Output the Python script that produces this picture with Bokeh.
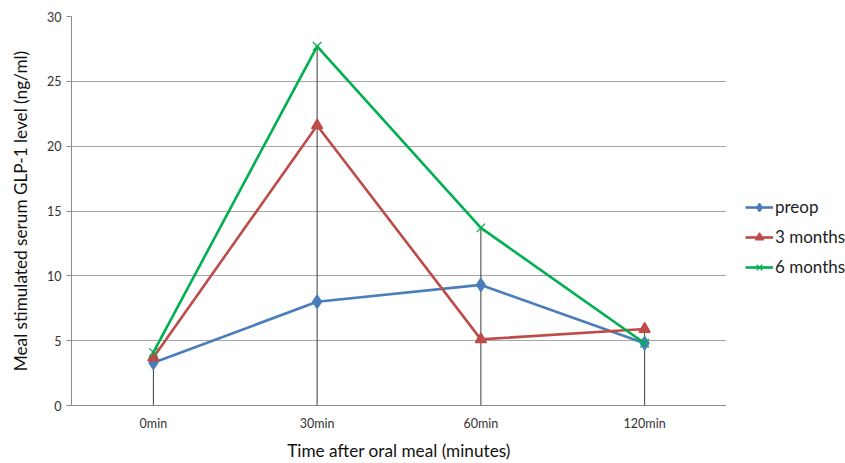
from bokeh.plotting import figure
from bokeh.layouts import row
from bokeh.models import FactorRange, Range1d, Legend, LegendItem, ColumnDataSource, FixedTicker
from bokeh.embed import file_html
from bokeh.resources import INLINE

times = ["0min", "30min", "60min", "120min"]
preop = [3.3, 8.0, 9.3, 4.8]
months3 = [3.7, 21.6, 5.1, 5.9]
months6 = [4.1, 27.7, 13.7, 4.8]
yticks = [0, 5, 10, 15, 20, 25, 30]

FONT = "Lato"

p = figure(x_range=FactorRange(*times), y_range=Range1d(0, 30),
           width=726, height=463, output_backend="svg", toolbar_location=None,
           min_border_left=71, min_border_right=0, min_border_top=16, min_border_bottom=58)
p.outline_line_color = None

# legend-only figure (its renderers sit outside its visible range)
pl = figure(x_range=FactorRange(*times), y_range=Range1d(1000, 1001),
            width=119, height=463, output_backend="svg", toolbar_location=None,
            min_border=0, outline_line_color=None)
pl.axis.visible = False
pl.grid.visible = False

# drop lines from max value to axis
maxv = [max(a, b, c) for a, b, c in zip(preop, months3, months6)]
p.segment(x0=times, y0=[0] * 4, x1=times, y1=maxv, line_color="#3a3a3a", line_width=1)

series = [
    ("preop", preop, "#4A7EBB", "diamond", 13, 1.5),
    ("3 months", months3, "#BE4B48", "triangle", 11, 1.5),
    ("6 months", months6, "#00B050", "x", 12, 1.3),
]
items = []
for name, vals, col, mk, sz, lw in series:
    src = ColumnDataSource(dict(x=times, y=vals))
    p.line("x", "y", source=src, line_color=col, line_width=2.6)
    p.scatter("x", "y", source=src, marker=mk, size=sz, fill_color=col,
              line_color=col, line_width=lw)
    l = pl.line("x", "y", source=src, line_color=col, line_width=2.6)
    s = pl.scatter("x", "y", source=src, marker=mk, size=sz, fill_color=col,
                   line_color=col, line_width=lw)
    items.append(LegendItem(label=name, renderers=[l, s]))

legend = Legend(items=items, location=(19, 128), border_line_color=None,
                background_fill_alpha=0, label_text_font=FONT, label_text_font_size="17px",
                label_text_color="#222222", glyph_width=28, spacing=9, padding=0,
                label_standoff=2, margin=0)
pl.add_layout(legend, "center")

p.yaxis.ticker = FixedTicker(ticks=yticks)
p.ygrid.ticker = FixedTicker(ticks=yticks)
p.ygrid.grid_line_color = "#A6A6A6"
p.xgrid.grid_line_color = None

for ax in (p.xaxis[0], p.yaxis[0]):
    ax.axis_line_color = "#8C8C8C"
    ax.major_label_text_font = FONT
    ax.major_label_text_font_size = "12.5px"
    ax.major_label_text_color = "#333333"
    ax.axis_label_text_font = FONT
    ax.axis_label_text_font_size = "17.2px"
    ax.axis_label_text_font_style = "normal"
    ax.axis_label_text_color = "#111111"
    ax.minor_tick_line_color = None

p.yaxis.major_tick_line_color = "#8C8C8C"
p.yaxis.major_tick_out = 5
p.yaxis.major_tick_in = 0
p.yaxis.axis_label = "Meal stimulated serum GLP-1 level (ng/ml)"
p.yaxis.axis_label_standoff = 13
p.xaxis.major_tick_line_color = None
p.xaxis.major_tick_out = 0
p.xaxis.major_tick_in = 0
p.xaxis.major_label_standoff = 10
p.xaxis.axis_label = "Time after oral meal (minutes)"
p.xaxis.axis_label_standoff = 6

layout = row(p, pl)
open("out.html", "w").write(file_html(layout, INLINE))
